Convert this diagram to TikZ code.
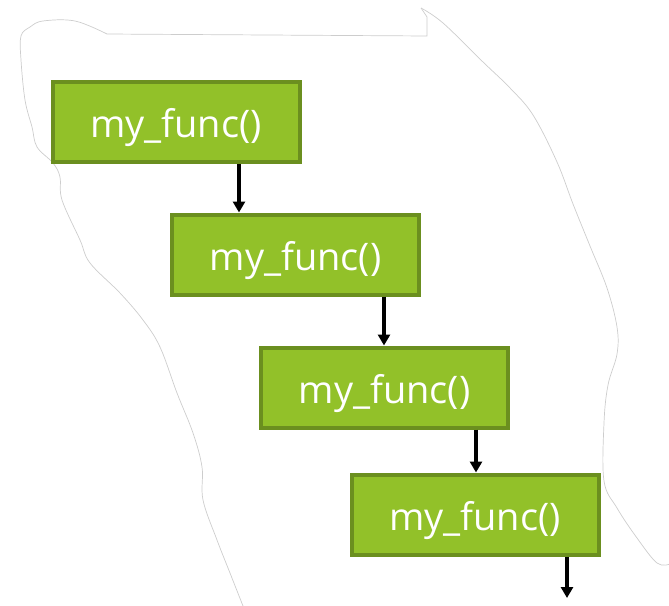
\documentclass[tikz,border=0pt]{standalone}
\usepackage{fontspec}
\setmainfont{Open Sans}
\usetikzlibrary{arrows.meta}
\definecolor{boxfill}{RGB}{146,193,41}
\definecolor{boxline}{RGB}{107,143,31}
\definecolor{outline}{RGB}{205,205,205}
\tikzset{
  funcbox/.style={draw=boxline, fill=boxfill, line width=4pt, inner sep=0pt,
    minimum width=247pt, minimum height=80pt, text=white,
    font=\fontsize{38}{40}\selectfont, text height=31pt, text depth=0pt},
  flowarrow/.style={line width=3.6pt, -{Triangle[width=12pt,length=11pt]}},
  sketch/.style={draw=outline, line width=0.7pt}
}
\begin{document}
\begin{tikzpicture}[x=1pt,y=-1pt]
\useasboundingbox (0,0) rectangle (669,605);
% hand-drawn outline
\draw[sketch] plot[smooth, tension=0.6] coordinates {(243,606) (230,573) (217,540) (203,500) (202,467) (193,433) (177,393) (160,347) (143,320) (120,293) (90,263) (80,240) (62,200) (60,177) (53,163) (37,147) (32,127) (25,100) (21,60) (21,36) (30,27) (43,21) (75,21) (107,34)}
  -- (427,36) -- (427,17) -- (421,8);
\draw[sketch] plot[smooth, tension=0.6] coordinates {(421,8) (443,23) (483,62) (510,88) (533,115) (557,162) (573,204) (590,246) (607,288) (617,327) (617,354) (608,385) (604,423) (604,481) (617,508) (637,538) (657,563) (670,564)};
% boxes
\node[funcbox] (b1) at (176,122) {my\_func()};
\node[funcbox] (b2) at (295.5,254.5) {my\_func()};
\node[funcbox] (b3) at (384.5,387.5) {my\_func()};
\node[funcbox] (b4) at (475,514.5) {my\_func()};
% arrow columns
\coordinate (a1) at (239,0);
\coordinate (a2) at (384,0);
\coordinate (a3) at (476,0);
\coordinate (a4) at (567,0);
\coordinate (end) at (567,598);
\draw[flowarrow] (b1.south -| a1) -- (b2.north -| a1);
\draw[flowarrow] (b2.south -| a2) -- (b3.north -| a2);
\draw[flowarrow] (b3.south -| a3) -- (b4.north -| a3);
\draw[flowarrow] (b4.south -| a4) -- (end);
\end{tikzpicture}
\end{document}
